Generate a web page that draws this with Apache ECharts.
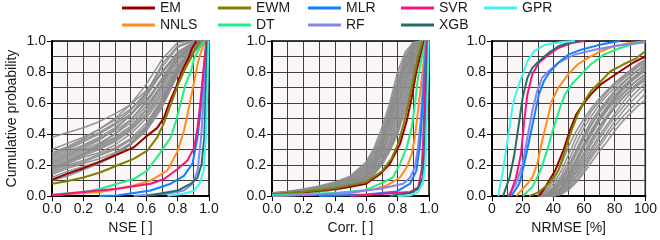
<!DOCTYPE html>
<html><head><meta charset="utf-8">
<script src="https://cdn.jsdelivr.net/npm/echarts@6/dist/echarts.min.js"></script>
<style>html,body{margin:0;padding:0;background:#fff}#c{width:660px;height:240px}</style>
</head><body><div id="c"></div>
<script>
// ---------- data ----------
const MODELS = ['EM','EWM','MLR','SVR','GPR','NNLS','DT','RF','XGB'];
const NSE_TICKS = ['0.0','0.2','0.4','0.6','0.8','1.0'];
const CORR_TICKS = ['0.0','0.2','0.4','0.6','0.8','1.0'];
const RMSE_TICKS = ['0','20','40','60','80','100'];
const PROB_TICKS = ['0.0','0.2','0.4','0.6','0.8','1.0'];

// Panel 1: NSE  ([value, cumulative probability])
const NSE_EM   = [[0,0.105],[0.094,0.143],[0.2,0.18],[0.31,0.224],[0.415,0.267],[0.52,0.314],[0.607,0.39],[0.67,0.44],[0.714,0.506],[0.746,0.6],[0.79,0.7],[0.81,0.763],[0.84,0.83],[0.87,0.89],[0.89,0.95],[0.92,1.0]];
const NSE_EWM  = [[0,0.08],[0.094,0.096],[0.2,0.12],[0.31,0.154],[0.415,0.197],[0.52,0.24],[0.607,0.293],[0.67,0.378],[0.714,0.474],[0.756,0.59],[0.8,0.71],[0.84,0.805],[0.885,0.89],[0.917,0.955],[0.94,1.0]];
const NSE_DT   = [[0,0.01],[0.2,0.026],[0.31,0.047],[0.415,0.08],[0.52,0.11],[0.607,0.165],[0.69,0.28],[0.756,0.378],[0.79,0.485],[0.82,0.6],[0.85,0.72],[0.885,0.805],[0.906,0.89],[0.94,0.955],[0.97,1.0]];
const NSE_NNLS = [[0,0.005],[0.31,0.026],[0.415,0.047],[0.52,0.068],[0.628,0.1],[0.735,0.165],[0.8,0.29],[0.84,0.42],[0.863,0.528],[0.885,0.635],[0.906,0.74],[0.927,0.85],[0.95,0.934],[0.974,1.0]];
const NSE_SVR  = [[0,0.005],[0.2,0.026],[0.415,0.047],[0.628,0.08],[0.714,0.11],[0.8,0.175],[0.863,0.23],[0.906,0.314],[0.927,0.44],[0.944,0.59],[0.96,0.763],[0.974,0.91],[0.983,1.0]];
const NSE_MLR  = [[0.3,0.0],[0.415,0.004],[0.628,0.036],[0.756,0.08],[0.84,0.13],[0.895,0.21],[0.927,0.38],[0.95,0.59],[0.966,0.805],[0.98,0.955],[0.987,1.0]];
const NSE_RF   = [[0.52,0.002],[0.735,0.015],[0.84,0.036],[0.895,0.08],[0.927,0.165],[0.95,0.378],[0.966,0.635],[0.98,0.85],[0.987,1.0]];
const NSE_XGB  = [[0.6,0.0],[0.8,0.036],[0.885,0.08],[0.927,0.12],[0.953,0.207],[0.97,0.378],[0.98,0.7],[0.99,1.0]];
const NSE_GPR  = [[0.735,0.002],[0.84,0.015],[0.906,0.036],[0.94,0.08],[0.966,0.165],[0.98,0.378],[0.99,0.7],[0.997,1.0]];
const NSE_GRAY_X = [0,0.1,0.2,0.3,0.4,0.5,0.6,0.7,0.8,0.9,1.0];
const NSE_GRAY = [
 [0.38,0.41,0.44,0.48,0.53,0.59,0.68,0.80,0.92,0.99,1],
 [0.30,0.34,0.38,0.43,0.49,0.56,0.66,0.79,0.92,0.99,1],
 [0.27,0.31,0.36,0.41,0.47,0.55,0.67,0.83,0.96,1,1],
 [0.25,0.29,0.33,0.38,0.44,0.52,0.64,0.80,0.93,0.99,1],
 [0.24,0.28,0.32,0.37,0.42,0.49,0.60,0.75,0.90,0.98,1],
 [0.23,0.27,0.31,0.36,0.43,0.52,0.66,0.85,0.97,1,1],
 [0.22,0.26,0.30,0.34,0.40,0.47,0.58,0.72,0.88,0.97,1],
 [0.21,0.25,0.29,0.33,0.38,0.45,0.56,0.72,0.89,0.98,1],
 [0.20,0.24,0.28,0.32,0.37,0.44,0.55,0.70,0.86,0.97,1],
 [0.19,0.23,0.27,0.31,0.36,0.43,0.53,0.68,0.84,0.96,1],
 [0.18,0.22,0.26,0.30,0.35,0.42,0.52,0.66,0.83,0.95,1],
 [0.17,0.21,0.25,0.28,0.33,0.40,0.50,0.64,0.82,0.95,1],
 [0.16,0.20,0.23,0.27,0.31,0.37,0.47,0.62,0.80,0.94,1],
 [0.15,0.19,0.22,0.26,0.30,0.36,0.45,0.60,0.80,0.95,1],
 [0.14,0.18,0.21,0.24,0.28,0.34,0.43,0.58,0.79,0.94,1],
 [0.12,0.16,0.19,0.22,0.27,0.33,0.42,0.57,0.78,0.93,1],
 [0.11,0.14,0.18,0.22,0.27,0.34,0.45,0.62,0.82,0.96,1],
 [0.10,0.13,0.17,0.21,0.26,0.33,0.44,0.60,0.80,0.95,1],
 [0.26,0.30,0.35,0.40,0.46,0.53,0.62,0.74,0.88,0.98,1],
 [0.18,0.22,0.27,0.33,0.40,0.49,0.61,0.76,0.91,0.99,1],
 [0.28,0.32,0.37,0.43,0.50,0.59,0.72,0.88,0.99,1,1]
];

// Panel 2: Corr.
const CORR_EM   = [[0,0.01],[0.2,0.025],[0.4,0.045],[0.5,0.06],[0.6,0.08],[0.69,0.143],[0.75,0.207],[0.815,0.335],[0.858,0.485],[0.89,0.635],[0.92,0.805],[0.953,0.934],[0.968,1.0]];
const CORR_EWM  = [[0,0.01],[0.2,0.028],[0.4,0.05],[0.6,0.09],[0.7,0.16],[0.76,0.24],[0.8,0.33],[0.84,0.47],[0.87,0.6],[0.9,0.75],[0.93,0.9],[0.96,1.0]];
const CORR_DT   = [[0,0.005],[0.4,0.02],[0.6,0.04],[0.69,0.08],[0.77,0.12],[0.815,0.207],[0.858,0.314],[0.89,0.44],[0.91,0.59],[0.93,0.763],[0.953,0.89],[0.975,0.987],[0.98,1.0]];
const CORR_NNLS = [[0,0.0],[0.5,0.02],[0.65,0.045],[0.73,0.068],[0.815,0.12],[0.858,0.186],[0.89,0.27],[0.91,0.378],[0.93,0.55],[0.947,0.7],[0.964,0.85],[0.977,0.976],[0.982,1.0]];
const CORR_RF   = [[0,0.0],[0.3,0.01],[0.5,0.025],[0.69,0.047],[0.836,0.08],[0.88,0.12],[0.91,0.186],[0.93,0.314],[0.947,0.485],[0.96,0.7],[0.972,0.88],[0.982,1.0]];
const CORR_MLR  = [[0.3,0.0],[0.6,0.01],[0.795,0.03],[0.88,0.08],[0.92,0.165],[0.943,0.335],[0.96,0.59],[0.972,0.805],[0.985,0.976],[0.99,1.0]];
const CORR_SVR  = [[0.5,0.0],[0.88,0.026],[0.932,0.058],[0.953,0.165],[0.964,0.378],[0.975,0.7],[0.985,0.976],[0.99,1.0]];
const CORR_XGB  = [[0.75,0.0],[0.88,0.02],[0.93,0.047],[0.96,0.12],[0.975,0.378],[0.985,0.7],[0.994,1.0]];
const CORR_GPR  = [[0.8,0.0],[0.88,0.004],[0.93,0.026],[0.96,0.08],[0.977,0.207],[0.985,0.485],[0.994,0.805],[0.998,1.0]];
const CORR_GRAY_X = [0,0.1,0.2,0.3,0.4,0.5,0.6,0.65,0.7,0.75,0.8,0.85,0.9,0.95,1.0];
const CORR_GRAY = [
 [0.02,0.03,0.045,0.065,0.09,0.13,0.22,0.31,0.44,0.60,0.80,0.93,0.99,1,1],
 [0.02,0.03,0.04,0.06,0.085,0.12,0.21,0.29,0.41,0.57,0.76,0.91,0.99,1,1],
 [0.015,0.025,0.04,0.055,0.08,0.115,0.20,0.28,0.39,0.55,0.73,0.89,0.98,1,1],
 [0.015,0.025,0.035,0.05,0.075,0.11,0.19,0.26,0.37,0.52,0.70,0.87,0.97,1,1],
 [0.015,0.02,0.035,0.05,0.07,0.10,0.17,0.24,0.35,0.50,0.68,0.85,0.96,1,1],
 [0.015,0.02,0.03,0.045,0.065,0.095,0.16,0.23,0.33,0.47,0.65,0.83,0.95,1,1],
 [0.01,0.02,0.03,0.045,0.06,0.09,0.15,0.21,0.31,0.45,0.62,0.80,0.94,0.99,1],
 [0.01,0.02,0.03,0.04,0.06,0.085,0.14,0.20,0.29,0.42,0.59,0.77,0.93,0.99,1],
 [0.01,0.02,0.025,0.04,0.055,0.08,0.13,0.19,0.27,0.40,0.56,0.74,0.91,0.99,1],
 [0.01,0.015,0.025,0.035,0.05,0.075,0.125,0.18,0.26,0.37,0.53,0.71,0.89,0.98,1],
 [0.01,0.015,0.025,0.035,0.05,0.07,0.12,0.17,0.24,0.35,0.50,0.68,0.87,0.98,1],
 [0.01,0.015,0.02,0.03,0.045,0.065,0.11,0.16,0.23,0.33,0.47,0.65,0.85,0.97,1],
 [0.01,0.015,0.02,0.03,0.045,0.065,0.11,0.15,0.22,0.31,0.44,0.62,0.82,0.97,1],
 [0.01,0.015,0.02,0.03,0.04,0.06,0.10,0.14,0.21,0.30,0.42,0.59,0.79,0.96,1],
 [0.01,0.015,0.02,0.03,0.04,0.06,0.10,0.14,0.20,0.29,0.40,0.56,0.76,0.95,1],
 [0.02,0.03,0.04,0.06,0.08,0.11,0.18,0.25,0.36,0.53,0.72,0.88,0.97,1,1],
 [0.015,0.02,0.03,0.045,0.06,0.09,0.15,0.22,0.32,0.48,0.66,0.82,0.94,0.99,1],
 [0.01,0.02,0.03,0.04,0.055,0.08,0.13,0.19,0.28,0.41,0.57,0.75,0.90,0.98,1]
];

// Panel 3: NRMSE [%]
const RMSE_GPR  = [[4,0],[7.2,0.165],[10.4,0.378],[13.6,0.59],[16.8,0.7],[20,0.785],[23.1,0.87],[27.4,0.934],[34.8,0.976],[45.4,0.994],[54,1.0]];
const RMSE_XGB  = [[7.2,0],[11.5,0.12],[14.6,0.27],[17.8,0.485],[20,0.635],[23.1,0.763],[26.3,0.827],[30.6,0.87],[36.9,0.923],[43.3,0.966],[51.8,0.994],[58,1.0]];
const RMSE_SVR  = [[11.5,0],[15.7,0.12],[18.9,0.27],[21,0.485],[23.1,0.656],[26.3,0.785],[30.6,0.86],[36.9,0.912],[43.3,0.955],[51.8,0.987],[60.3,1.0]];
const RMSE_RF   = [[10.4,0],[15.7,0.08],[20,0.207],[23.1,0.378],[26.3,0.55],[29.5,0.677],[32.7,0.763],[36.9,0.805],[43.3,0.86],[53.9,0.912],[66.7,0.944],[79.4,0.966],[90,0.98],[100,0.994]];
const RMSE_MLR  = [[12.5,0],[17.8,0.08],[21,0.207],[24.2,0.357],[27.4,0.506],[30.6,0.656],[33.8,0.74],[38,0.805],[43.3,0.86],[49.7,0.912],[58.2,0.944],[68.8,0.972],[79.4,0.994],[83.6,1.0]];
const RMSE_NNLS = [[15.7,0],[22.1,0.068],[26.3,0.12],[29.5,0.207],[32.7,0.357],[35.9,0.485],[39,0.613],[43.3,0.7],[49.7,0.785],[56,0.85],[62.4,0.89],[70.9,0.934],[79.4,0.966],[90,0.987],[100,0.998]];
const RMSE_DT   = [[20,0],[26.3,0.058],[31.6,0.165],[35.9,0.293],[40.1,0.44],[44.4,0.57],[47.6,0.656],[51.8,0.72],[58.2,0.785],[64.5,0.85],[73,0.912],[83.6,0.955],[92.1,0.98],[100,0.994]];
const RMSE_EWM  = [[24.2,0],[30.6,0.026],[36.9,0.08],[43.3,0.165],[47.6,0.293],[51.8,0.42],[56,0.528],[60.3,0.613],[64.5,0.677],[70.9,0.74],[77.3,0.805],[85.8,0.85],[94.3,0.89],[100,0.934]];
const RMSE_EM   = [[30.6,0],[34.8,0.058],[41.2,0.165],[46.5,0.293],[50.7,0.42],[55,0.528],[59.2,0.59],[64.5,0.656],[70.9,0.72],[77.3,0.763],[83.6,0.805],[92.1,0.86],[100,0.90]];
const RMSE_GRAY_X = [30,35,40,45,50,55,60,65,70,75,80,85,90,95,100];
const RMSE_GRAY = [
 [0.01,0.04,0.10,0.20,0.32,0.42,0.50,0.57,0.63,0.68,0.73,0.77,0.81,0.85,0.88],
 [0.005,0.03,0.08,0.16,0.27,0.38,0.47,0.55,0.61,0.67,0.72,0.76,0.80,0.84,0.87],
 [0,0.02,0.06,0.13,0.23,0.34,0.44,0.52,0.59,0.65,0.70,0.75,0.79,0.83,0.86],
 [0,0.01,0.05,0.11,0.20,0.30,0.40,0.49,0.56,0.62,0.68,0.73,0.77,0.81,0.85],
 [0,0.01,0.04,0.09,0.17,0.27,0.37,0.46,0.54,0.61,0.67,0.72,0.77,0.81,0.84],
 [0,0.005,0.03,0.08,0.15,0.24,0.34,0.43,0.51,0.58,0.64,0.70,0.75,0.79,0.83],
 [0,0,0.02,0.06,0.13,0.22,0.32,0.41,0.49,0.56,0.62,0.68,0.73,0.77,0.81],
 [0,0,0.02,0.05,0.11,0.19,0.28,0.37,0.45,0.52,0.59,0.65,0.70,0.75,0.79],
 [0,0,0.01,0.04,0.09,0.16,0.25,0.34,0.42,0.50,0.57,0.63,0.68,0.73,0.77],
 [0,0,0.01,0.03,0.08,0.15,0.23,0.31,0.39,0.46,0.53,0.60,0.66,0.71,0.75],
 [0,0,0.005,0.03,0.07,0.13,0.21,0.29,0.37,0.44,0.51,0.57,0.63,0.68,0.73],
 [0,0,0,0.02,0.06,0.12,0.19,0.27,0.34,0.41,0.48,0.54,0.60,0.65,0.70],
 [0,0,0,0.02,0.05,0.10,0.17,0.25,0.32,0.39,0.45,0.51,0.56,0.61,0.66],
 [0,0,0,0.01,0.04,0.09,0.15,0.22,0.29,0.35,0.42,0.48,0.53,0.58,0.62],
 [0,0.01,0.04,0.10,0.19,0.29,0.39,0.47,0.54,0.60,0.65,0.70,0.74,0.78,0.81],
 [0,0,0.03,0.07,0.14,0.23,0.33,0.42,0.50,0.57,0.63,0.69,0.74,0.78,0.82],
 [0,0,0.015,0.05,0.12,0.21,0.31,0.40,0.48,0.55,0.61,0.66,0.71,0.75,0.78],
 [0,0,0.01,0.04,0.10,0.18,0.27,0.36,0.44,0.51,0.57,0.63,0.68,0.72,0.76]
];

// ---------- styling ----------
const COLORS = {EM:'#990000',EWM:'#7f7f00',MLR:'#0f80ff',SVR:'#f41482',GPR:'#40f2f2',
                NNLS:'#ff8a1e',DT:'#20ee88',RF:'#8585f0',XGB:'#207068'};
const GRAY = '#8c8c8c';
const FONT = 'Liberation Sans, Arial, Helvetica, sans-serif';
const PANEL_DATA = [
  {EM:NSE_EM,EWM:NSE_EWM,MLR:NSE_MLR,SVR:NSE_SVR,GPR:NSE_GPR,NNLS:NSE_NNLS,DT:NSE_DT,RF:NSE_RF,XGB:NSE_XGB},
  {EM:CORR_EM,EWM:CORR_EWM,MLR:CORR_MLR,SVR:CORR_SVR,GPR:CORR_GPR,NNLS:CORR_NNLS,DT:CORR_DT,RF:CORR_RF,XGB:CORR_XGB},
  {EM:RMSE_EM,EWM:RMSE_EWM,MLR:RMSE_MLR,SVR:RMSE_SVR,GPR:RMSE_GPR,NNLS:RMSE_NNLS,DT:RMSE_DT,RF:RMSE_RF,XGB:RMSE_XGB}
];
const PANEL_GRAY = [[NSE_GRAY_X,NSE_GRAY],[CORR_GRAY_X,CORR_GRAY],[RMSE_GRAY_X,RMSE_GRAY]];
const X_TICKS = [NSE_TICKS, CORR_TICKS, RMSE_TICKS];
const X_NAMES = ['NSE [ ]','Corr. [ ]','NRMSE [%]'];
const X_MAX = [1,1,100];
const LEFTS = [52,272,492];

const grids = LEFTS.map(l => ({left:l, top:41, width:157, height:156, show:true,
  backgroundColor:'#fcf7f7', borderColor:'#000', borderWidth:1.5, containLabel:false}));

const gridLine = {show:true, lineStyle:{color:'#2a2a2a', width:0.9}};
const xAxes = [0,1,2].map(i => ({
  type:'value', gridIndex:i, min:0, max:X_MAX[i], interval:X_MAX[i]/5,
  name:X_NAMES[i], nameLocation:'middle', nameGap:22,
  nameTextStyle:{fontFamily:FONT, fontSize:14, color:'#1a1a1a'},
  axisLine:{show:true, onZero:false, lineStyle:{color:'#000', width:2}},
  axisTick:{show:true, length:5, lineStyle:{color:'#000', width:1}},
  axisLabel:{show:true, margin:6, fontFamily:FONT, fontSize:14, color:'#1a1a1a',
    formatter:(v)=>{const k=Math.round(v/(X_MAX[i]/5)); return X_TICKS[i][k];}},
  splitLine:gridLine,
  minorTick:{show:false, splitNumber:2},
  minorSplitLine:gridLine
}));
const yAxes = [0,1,2].map(i => ({
  type:'value', gridIndex:i, min:0, max:1, interval:0.2,
  name: i===0 ? 'Cumulative probability' : '', nameLocation:'middle', nameGap:33,
  nameTextStyle:{fontFamily:FONT, fontSize:14, color:'#1a1a1a'},
  axisLine:{show:true, onZero:false, lineStyle:{color:'#000', width:2}},
  axisTick:{show:true, length:5, lineStyle:{color:'#000', width:1}},
  axisLabel:{show:true, margin:6, fontFamily:FONT, fontSize:14, color:'#1a1a1a',
    formatter:(v)=>PROB_TICKS[Math.round(v/0.2)]},
  splitLine:gridLine,
  minorTick:{show:false, splitNumber:2},
  minorSplitLine:gridLine
}));

const series = [];
for (let i=0;i<3;i++){
  const [gx, gs] = PANEL_GRAY[i];
  gs.forEach((g)=>{
    series.push({type:'line', xAxisIndex:i, yAxisIndex:i, symbol:'none', silent:true,
      data: gx.map((x,k)=>[x,g[k]]), lineStyle:{color:GRAY, width:1.6, opacity:0.9},
      z:3, clip:true, legendHoverLink:false});
  });
  ['EM','EWM','NNLS','DT','RF','MLR','SVR','XGB','GPR'].forEach(m=>{
    series.push({type:'line', name:m, xAxisIndex:i, yAxisIndex:i, symbol:'none',
      data: PANEL_DATA[i][m], lineStyle:{color:COLORS[m], width:2}, itemStyle:{color:COLORS[m]},
      z:4, clip:true});
  });
}

const LEG_POS = {EM:[122,1],EWM:[218,1],MLR:[308,1],SVR:[401,1],GPR:[484,1],
                 NNLS:[122,18],DT:[218,18],RF:[308,18],XGB:[401,18]};
const legends = MODELS.map(m => ({data:[m], left:LEG_POS[m][0], top:LEG_POS[m][1], padding:0,
  icon:'rect', itemWidth:33, itemHeight:3, selectedMode:false,
  textStyle:{fontFamily:FONT, fontSize:14, color:'#1a1a1a'}}));

const chart = echarts.init(document.getElementById('c'), null, {renderer:'canvas'});
chart.setOption({animation:false, backgroundColor:'#fff', grid:grids, xAxis:xAxes, yAxis:yAxes,
  legend:legends, series:series});
</script></body></html>
